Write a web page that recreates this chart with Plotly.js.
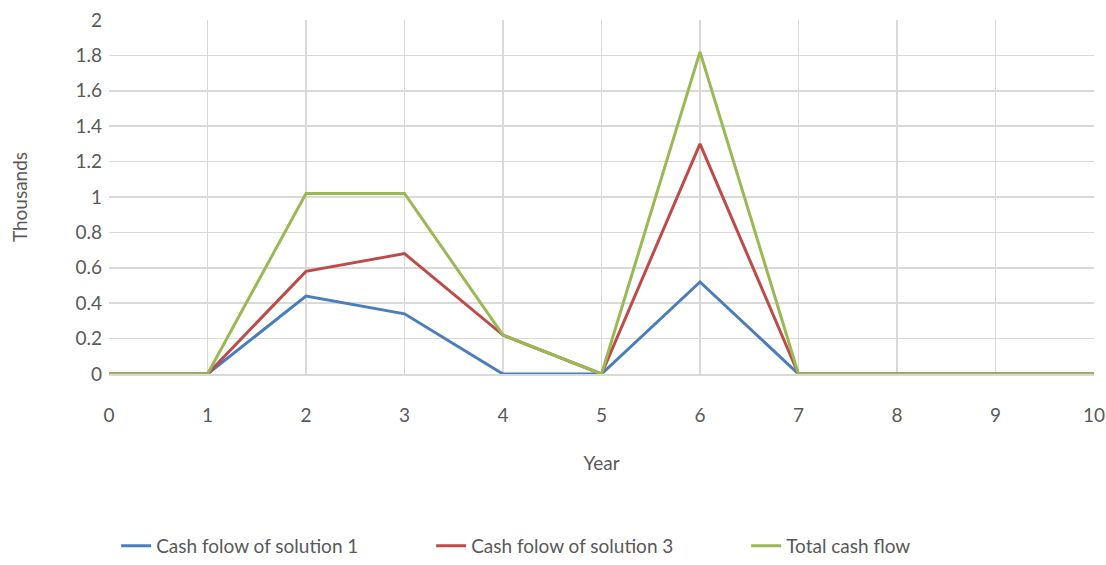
<!DOCTYPE html>
<html>
<head>
<meta charset="utf-8">
<script src="https://cdn.plot.ly/plotly-3.0.1.min.js"></script>
<style>html,body{margin:0;padding:0;background:#fff;}#chart{width:1106px;height:565px;}</style>
</head>
<body>
<div id="chart"></div>
<script>
const years = [0, 1, 2, 3, 4, 5, 6, 7, 8, 9, 10];
const solution1 = [0, 0, 0.44, 0.34, 0, 0, 0.52, 0, 0, 0, 0];
const solution3 = [0, 0, 0.58, 0.68, 0.22, 0, 1.30, 0, 0, 0, 0];
const totalFlow = [0, 0, 1.02, 1.02, 0.22, 0, 1.82, 0, 0, 0, 0];
const seriesNames = ["Cash folow of solution 1", "Cash folow of solution 3", "Total cash flow"];
const yTicks = [0, 0.2, 0.4, 0.6, 0.8, 1, 1.2, 1.4, 1.6, 1.8, 2];
const colors = ["#4a7ebb", "#be4b48", "#98b954"];

const data = [solution1, solution3, totalFlow].map((ys, i) => ({
  x: years, y: ys, type: "scatter", mode: "lines", name: seriesNames[i],
  line: {color: colors[i], width: 3}
}));

const font = {family: "Lato, 'Liberation Sans', sans-serif", color: "#595959", size: 19};
const layout = {
  width: 1106, height: 565,
  margin: {l: 109, r: 12, t: 20, b: 191},
  paper_bgcolor: "#fff", plot_bgcolor: "#fff",
  font: font,
  showlegend: true,
  legend: {orientation: "h", x: 0.105, xanchor: "left", xref: "container",
           y: -0.01, yanchor: "bottom", yref: "container",
           font: font, traceorder: "normal", entrywidth: 270, entrywidthmode: "pixels"},
  xaxis: {
    range: [0, 10], tickvals: years, ticktext: years.map(String),
    showgrid: true, gridcolor: "#d9d9d9", gridwidth: 1.5,
    showline: true, linecolor: "#d9d9d9", linewidth: 1.5,
    zeroline: false, ticks: "", ticklen: 0, tickfont: font, ticklabelstandoff: 24,
    automargin: false,
    title: {text: "Year", font: font, standoff: 31}
  },
  yaxis: {
    range: [0, 2], tickvals: yTicks, ticktext: yTicks.map(String),
    showgrid: true, gridcolor: "#d9d9d9", gridwidth: 1.5,
    zeroline: false, showline: false, ticks: "", tickfont: font, ticklabelstandoff: 6,
    automargin: false,
    title: {text: "Thousands", font: font, standoff: 42}
  }
};
Plotly.newPlot("chart", data, layout, {displayModeBar: false, staticPlot: true});
</script>
</body>
</html>
